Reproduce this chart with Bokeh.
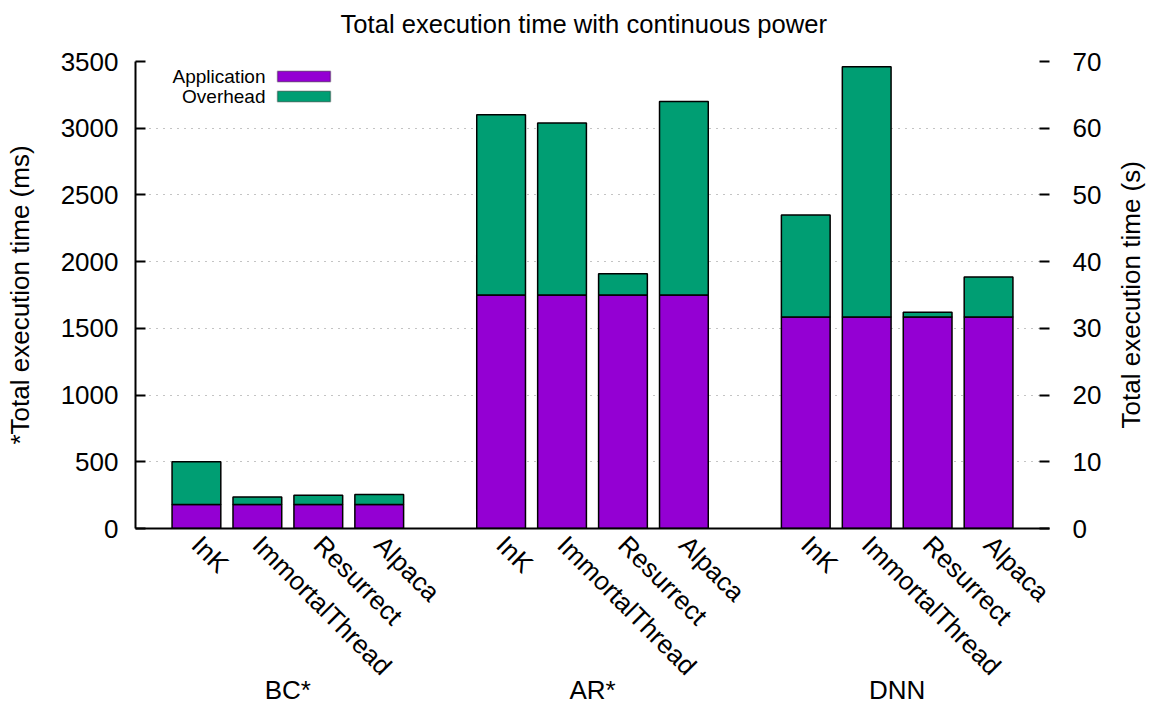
import math
from bokeh.plotting import figure
from bokeh.models import (Range1d, LinearAxis, FixedTicker, ColumnDataSource, Label,
                          BoxAnnotation, Title)
from bokeh.embed import file_html
from bokeh.resources import INLINE

# ---------------- data ----------------
groups = ["BC*", "AR*", "DNN"]
systems = ["InK", "ImmortalThread", "Resurrect", "Alpaca"]

# BC* and AR* are in milliseconds (left axis)
bc_application_ms = [180, 180, 180, 180]
bc_overhead_ms = [320, 57, 70, 75]
ar_application_ms = [1750, 1750, 1750, 1750]
ar_overhead_ms = [1350, 1290, 160, 1450]
# DNN is in seconds (right axis)
dnn_application_s = [31.7, 31.7, 31.7, 31.7]
dnn_overhead_s = [15.3, 37.5, 0.7, 6.0]

left_ticks_ms = [0, 500, 1000, 1500, 2000, 2500, 3000, 3500]
right_ticks_s = [0, 10, 20, 30, 40, 50, 60, 70]

series_names = ["Application", "Overhead"]
series_colors = ["#9400D3", "#009E73"]

# ---------------- positions (slots) ----------------
step = len(systems) + 1
slots = [[g * step + i for i in range(len(systems))] for g in range(len(groups))]
group_centers = [sum(s) / len(s) for s in slots]

ms_src = ColumnDataSource(dict(
    x=slots[0] + slots[1],
    application=bc_application_ms + ar_application_ms,
    overhead=bc_overhead_ms + ar_overhead_ms,
))
s_src = ColumnDataSource(dict(
    x=slots[2],
    application=dnn_application_s,
    overhead=dnn_overhead_s,
))

FONT = "Liberation Sans"

p = figure(width=1164, height=707, output_backend="svg", toolbar_location=None,
           x_range=Range1d(-1, len(groups) * step - 1), y_range=Range1d(0, 3500),
           min_border_left=135, min_border_right=108, min_border_top=61, min_border_bottom=179)
p.extra_y_ranges = {"s": Range1d(0, 70)}
p.outline_line_color = None
p.background_fill_color = "white"

p.vbar_stack(["application", "overhead"], x="x", width=0.8, source=ms_src,
             fill_color=series_colors, line_color="black", line_width=1.5)
p.vbar_stack(["application", "overhead"], x="x", width=0.8, source=s_src,
             y_range_name="s",
             fill_color=series_colors, line_color="black", line_width=1.5)

# title (a thin spacer between frame and title lifts it)
p.title.text = "Total execution time with continuous power"
p.title.align = "left"
p.title.offset = 205
p.title.vertical_align = "bottom"
p.title.standoff = 0
p.title.text_font = FONT
p.title.text_font_size = "25.6px"
p.title.text_font_style = "normal"
p.title.text_color = "black"
p.add_layout(Title(text=" ", text_font_size="2px", standoff=20), "above")

# x axis (system names)
all_slots = [x for s in slots for x in s]
xa = p.xaxis[0]
xa.ticker = FixedTicker(ticks=all_slots)
xa.major_label_overrides = {x: systems[i % len(systems)] for i, x in enumerate(all_slots)}
xa.major_label_orientation = -math.pi / 4
xa.major_label_text_font = FONT
xa.major_label_text_font_size = "26px"
xa.major_label_text_color = "black"
xa.major_label_standoff = 12
xa.major_tick_in = 0
xa.major_tick_out = 0
xa.minor_tick_in = 0
xa.minor_tick_out = 0
xa.axis_line_width = 2
xa.axis_line_color = "black"

# second x axis (group names)
ga = LinearAxis(ticker=FixedTicker(ticks=group_centers))
ga.major_label_overrides = {c: g for c, g in zip(group_centers, groups)}
ga.axis_line_color = None
ga.major_tick_in = 0
ga.major_tick_out = 0
ga.minor_tick_in = 0
ga.minor_tick_out = 0
ga.major_label_standoff = -20
ga.major_label_text_font = FONT
ga.major_label_text_font_size = "26px"
ga.major_label_text_color = "black"
p.add_layout(ga, "below")

# left y axis
ya = p.yaxis[0]
ya.ticker = FixedTicker(ticks=left_ticks_ms)
ya.major_label_text_font = FONT
ya.major_label_text_font_size = "26px"
ya.major_label_text_color = "black"
ya.major_label_standoff = 17
ya.major_tick_in = 10
ya.major_tick_out = 0
ya.major_tick_line_width = 2
ya.minor_tick_in = 0
ya.minor_tick_out = 0
ya.axis_line_width = 2
ya.axis_line_color = "black"
ya.axis_label = "*Total execution time (ms)"
ya.axis_label_standoff = 23
ya.axis_label_text_font = FONT
ya.axis_label_text_font_size = "26px"
ya.axis_label_text_font_style = "normal"
ya.axis_label_text_color = "black"

# right y axis (seconds)
ra = LinearAxis(y_range_name="s", ticker=FixedTicker(ticks=right_ticks_s))
ra.axis_line_color = None
ra.major_tick_in = 10
ra.major_tick_out = 0
ra.major_tick_line_width = 2
ra.minor_tick_in = 0
ra.minor_tick_out = 0
ra.major_label_standoff = 23
ra.major_label_text_font = FONT
ra.major_label_text_font_size = "26px"
ra.major_label_text_color = "black"
p.add_layout(ra, "right")

# right axis title, read bottom-to-top: a label-only axis whose single
# label starts at 15 s and runs upward beside the frame
right_title = "Total execution time (s)"
right_title_start_s = 15
rt = LinearAxis(y_range_name="s", ticker=FixedTicker(ticks=[right_title_start_s]))
rt.major_label_overrides = {right_title_start_s: right_title}
rt.major_label_orientation = math.pi / 2
rt.axis_line_color = None
rt.major_tick_in = 0
rt.major_tick_out = 0
rt.minor_tick_in = 0
rt.minor_tick_out = 0
rt.major_label_standoff = 27
rt.major_label_text_font = FONT
rt.major_label_text_font_size = "26px"
rt.major_label_text_color = "black"
p.add_layout(rt, "right")

# grid
p.xgrid.visible = False
p.ygrid.ticker = FixedTicker(ticks=left_ticks_ms)
p.ygrid.grid_line_color = "#888888"
p.ygrid.grid_line_dash = "1 6"
p.ygrid.grid_line_width = 1

# key (gnuplot style: text left of swatch), screen units relative to the frame
key_rows = [452, 432]
for name, color, yc in zip(series_names, series_colors, key_rows):
    p.add_layout(BoxAnnotation(left=142, right=195, top=yc + 5.3, bottom=yc - 5.3,
                               left_units="screen", right_units="screen",
                               top_units="screen", bottom_units="screen",
                               fill_color=color, fill_alpha=1.0,
                               line_color="black", line_width=1.5))
    p.add_layout(Label(x=130, y=yc, x_units="screen", y_units="screen",
                       text=name, text_align="right", text_baseline="middle",
                       text_font=FONT, text_font_size="19px", text_color="black"))

open("out.html", "w").write(file_html(p, INLINE))
